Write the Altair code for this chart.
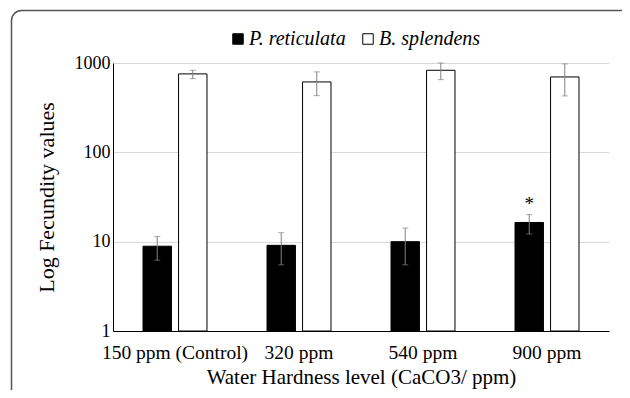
import altair as alt
import pandas as pd

categories = ["150 ppm (Control)", "320 ppm", "540 ppm", "900 ppm"]
species = ["P. reticulata", "B. splendens"]

pr_mean = [8.9, 9.1, 10.0, 16.4]
pr_low = [6.2, 5.5, 5.5, 12.2]
pr_high = [11.4, 12.6, 14.2, 20.1]
pr_sig = ["", "", "", "*"]

bs_mean = [755, 614, 829, 698]
bs_low = [668, 431, 651, 428]
bs_high = [829, 795, 1000, 977]
bs_sig = ["", "", "", ""]

rows = []
for i, c in enumerate(categories):
    rows.append(dict(cat=c, sp=species[0], mean=pr_mean[i], low=pr_low[i], high=pr_high[i], sig=pr_sig[i], base=1))
    rows.append(dict(cat=c, sp=species[1], mean=bs_mean[i], low=bs_low[i], high=bs_high[i], sig=bs_sig[i], base=1))
df = pd.DataFrame(rows)

FONT = "Liberation Serif"

x_enc = alt.X("cat:N", sort=categories,
              scale=alt.Scale(paddingInner=0.484, paddingOuter=0.242),
              axis=alt.Axis(title="Water Hardness level (CaCO3/ ppm)", labelAngle=0,
                            ticks=False, domainColor="#000000", labelPadding=12,
                            labelFontSize=19.5, titleFontSize=21, labelColor="#000000",
                            titleColor="#000000", titleFontWeight="normal",
                            titleY=46, titleBaseline="middle", labelFont=FONT, titleFont=FONT,
                            grid=False))
xo_enc = alt.XOffset("sp:N", sort=species, scale=alt.Scale(paddingInner=0.2, paddingOuter=0))
y_scale = alt.Scale(type="log", domain=[1, 1000])

base = alt.Chart(df)

bars = base.mark_bar(stroke="#000000", strokeWidth=1).encode(
    x=x_enc,
    xOffset=xo_enc,
    y=alt.Y("mean:Q", scale=y_scale,
            axis=alt.Axis(title="Log Fecundity values", values=[1, 10, 100, 1000], format="d",
                          ticks=False, domainColor="#000000", gridColor="#d9d9d9",
                          labelFontSize=18, titleFontSize=22, labelFont=FONT, titleFont=FONT,
                          labelColor="#000000", titleColor="#000000", titleFontWeight="normal",
                          labelPadding=3, titleX=-67, titleY=134, titleAngle=-90,
                          titleBaseline="middle", titleAlign="center")),
    y2=alt.Y2("base:Q"),
    fill=alt.Fill("sp:N", sort=species,
                  scale=alt.Scale(domain=species, range=["#000000", "#ffffff"]),
                  legend=alt.Legend(title=None, orient="none", direction="horizontal",
                                    legendX=115, legendY=-34, symbolType="square",
                                    symbolSize=110, symbolStrokeColor="#000000",
                                    symbolStrokeWidth=1, labelFont=FONT,
                                    labelFontSize=20,
                                    labelFontStyle="italic", labelColor="#000000",
                                    labelOffset=1, columnPadding=12, padding=0)),
)

err = base.mark_rule(color="#808080", strokeWidth=1).encode(
    x=alt.X("cat:N", sort=categories), xOffset=xo_enc,
    y=alt.Y("low:Q", scale=y_scale), y2="high:Q")

cap_hi = base.mark_tick(color="#808080", thickness=1, size=6).encode(
    x=alt.X("cat:N", sort=categories), xOffset=xo_enc,
    y=alt.Y("high:Q", scale=y_scale))
cap_lo = base.mark_tick(color="#808080", thickness=1, size=6).encode(
    x=alt.X("cat:N", sort=categories), xOffset=xo_enc,
    y=alt.Y("low:Q", scale=y_scale))

stars = base.mark_text(font=FONT, fontSize=19, color="#000000", dy=-11, baseline="middle").encode(
    x=alt.X("cat:N", sort=categories), xOffset=xo_enc,
    y=alt.Y("high:Q", scale=y_scale), text="sig:N")

frame = alt.Chart(alt.Data(values=[{"a": 1}])).mark_rect(
    fillOpacity=0, stroke="#555555", strokeWidth=1.5, cornerRadius=10
).encode(x=alt.value(-101.5), x2=alt.value(640), y=alt.value(-52.5), y2=alt.value(420))

chart = alt.layer(frame, bars, err, cap_hi, cap_lo, stars).properties(
    width=496, height=268,
    autosize=alt.AutoSizeParams(type="none"),
    padding={"left": 105, "top": 55, "right": 13, "bottom": 59},
).configure_view(stroke=None).configure_axis(gridWidth=1)

chart.save("out.html", embed_options={"renderer": "svg", "actions": False})
